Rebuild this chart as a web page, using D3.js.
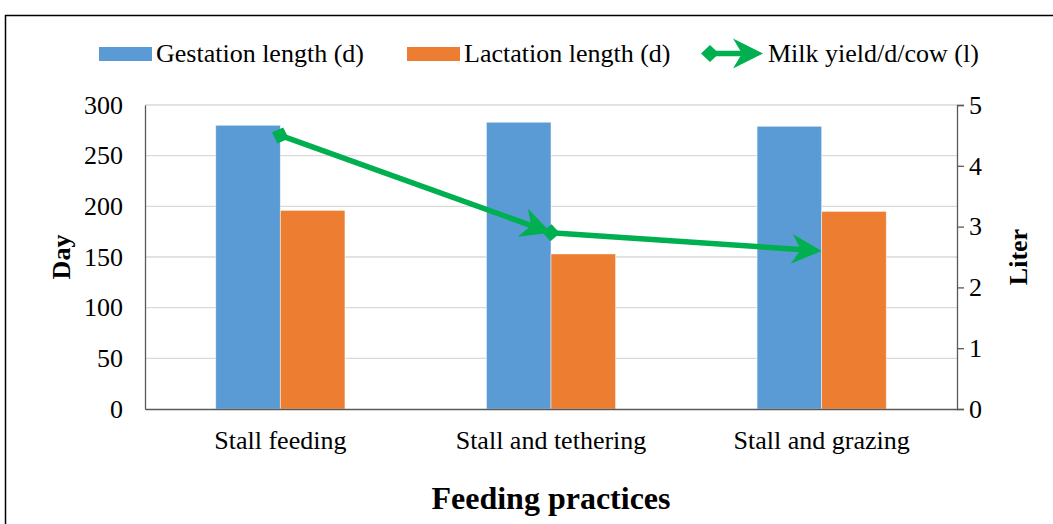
<!DOCTYPE html>
<html><head><meta charset="utf-8">
<script src="https://cdn.jsdelivr.net/npm/d3@7"></script>
<style>
html,body{margin:0;padding:0;background:#fff;}
svg{display:block;}
svg text{font-family:"Liberation Serif","Times New Roman",serif !important;fill:#000;}
</style></head>
<body>
<svg id="chart" width="1053" height="524"></svg>
<script>
const categories = ["Stall feeding", "Stall and tethering", "Stall and grazing"];
const gestation = [280, 283, 279];
const lactation = [196, 153, 195];
const milkYield = [4.5, 2.9, 2.6];
const dayTicks = [0, 50, 100, 150, 200, 250, 300];
const literTicks = [0, 1, 2, 3, 4, 5];
const seriesNames = ["Gestation length (d)", "Lactation length (d)", "Milk yield/d/cow (l)"];
const colors = ["#5B9BD5", "#ED7D31", "#00B050"];

const svg = d3.select("#chart");
const m = {left: 145, right: 957, top: 105, bottom: 409};
const FS = 26;

// outer border
svg.append("rect").attr("x", 5.5).attr("y", 15.5).attr("width", 1060).attr("height", 520)
  .attr("fill", "none").attr("stroke", "#000").attr("stroke-width", 1.5);

const x = d3.scaleBand().domain(categories).range([m.left, m.right]);
const xs = d3.scaleBand().domain([0, 1]).range([0, x.bandwidth()]).paddingInner(0).paddingOuter(1.095);
const yL = d3.scaleLinear().domain([0, 300]).range([m.bottom, m.top]);
const yR = d3.scaleLinear().domain([0, 5]).range([m.bottom, m.top]);

// gridlines
svg.append("g").selectAll("line").data(dayTicks.filter(d => d > 0)).join("line")
  .attr("x1", m.left).attr("x2", m.right)
  .attr("y1", d => yL(d)).attr("y2", d => yL(d))
  .attr("stroke", "#d9d9d9").attr("stroke-width", 1.3);

// bars
const groups = [gestation, lactation];
groups.forEach((arr, si) => {
  svg.append("g").selectAll("rect").data(arr).join("rect")
    .attr("x", (d, i) => x(categories[i]) + xs(si))
    .attr("width", xs.bandwidth())
    .attr("y", d => yL(d))
    .attr("height", d => yL(0) - yL(d))
    .attr("fill", colors[si])
    .attr("stroke", "#fff").attr("stroke-opacity", 0.6).attr("stroke-width", 0.8);
});

// left axis
const axL = svg.append("g").attr("transform", `translate(${m.left},0)`)
  .call(d3.axisLeft(yL).tickValues(dayTicks).tickSize(0).tickPadding(22));
axL.select(".domain").attr("stroke", "#595959").attr("stroke-width", 1.3);
axL.selectAll("text").attr("font-size", FS);

// right axis
const axR = svg.append("g").attr("transform", `translate(${m.right},0)`)
  .call(d3.axisRight(yR).tickValues(literTicks).tickFormat(d3.format("d")).tickSize(7).tickSizeOuter(7).tickPadding(5));
axR.select(".domain").attr("stroke", "#595959").attr("stroke-width", 1.3);
axR.selectAll(".tick line").attr("stroke", "#595959").attr("stroke-width", 1.3);
axR.selectAll("text").attr("font-size", FS);

// bottom baseline
const axB = svg.append("g").attr("transform", `translate(0,${m.bottom})`)
  .call(d3.axisBottom(x).tickSize(0).tickPadding(22));
axB.select(".domain").attr("stroke", "#595959").attr("stroke-width", 1.5);
axB.selectAll("text").attr("font-size", FS);

// markers
const defs = svg.append("defs");
defs.append("marker").attr("id", "arrow").attr("markerUnits", "userSpaceOnUse")
  .attr("viewBox", "-32 -17 34 34").attr("refX", 0).attr("refY", 0)
  .attr("markerWidth", 34).attr("markerHeight", 34).attr("orient", "auto")
  .append("path").attr("d", "M0,0 L-30,-15 L-21,0 L-30,15 Z").attr("fill", colors[2]);
defs.append("marker").attr("id", "diamond").attr("markerUnits", "userSpaceOnUse")
  .attr("viewBox", "-10 -10 20 20").attr("refX", 0).attr("refY", 0)
  .attr("markerWidth", 20).attr("markerHeight", 20).attr("orient", "auto")
  .append("path").attr("d", "M-9,0 L0,-8.5 L9,0 L0,8.5 Z").attr("fill", colors[2]);

// milk yield line: segments with diamond start and arrow end
const pts = milkYield.map((v, i) => [x(categories[i]) + x.bandwidth() / 2, yR(v)]);
const segs = d3.pairs(pts);
const lineGen = d3.line();
svg.append("g").selectAll("path").data(segs).join("path")
  .attr("d", d => {
    const [a, b] = d; const dx = b[0] - a[0], dy = b[1] - a[1]; const L = Math.hypot(dx, dy);
    return lineGen([a, [b[0] - dx / L * 18, b[1] - dy / L * 18]]);
  })
  .attr("fill", "none").attr("stroke", colors[2]).attr("stroke-width", 5.5);
svg.append("g").selectAll("path").data(segs).join("path")
  .attr("d", d => lineGen(d))
  .attr("fill", "none").attr("stroke", "none")
  .attr("marker-start", "url(#diamond)").attr("marker-end", "url(#arrow)");

// legend
const lg = svg.append("g");
const lx = [99, 407];
[0, 1].forEach(i => {
  lg.append("rect").attr("x", lx[i]).attr("y", 47).attr("width", 53).attr("height", 14).attr("fill", colors[i]);
  lg.append("text").attr("x", lx[i] + 57).attr("y", 62).attr("font-size", FS).text(seriesNames[i]);
});
lg.append("path").attr("d", lineGen([[710, 53.5], [745, 53.5]])).attr("stroke", colors[2]).attr("stroke-width", 5.5);
lg.append("path").attr("d", lineGen([[710, 53.5], [763, 53.5]])).attr("stroke", "none")
  .attr("marker-start", "url(#diamond)").attr("marker-end", "url(#arrow)");
lg.append("text").attr("x", 768).attr("y", 62).attr("font-size", FS).text(seriesNames[2]);

// axis titles
svg.append("text").attr("transform", `translate(70,${(m.top + m.bottom) / 2}) rotate(-90)`)
  .attr("text-anchor", "middle").attr("font-size", FS).attr("font-weight", "bold").text("Day");
svg.append("text").attr("transform", `translate(1027,${(m.top + m.bottom) / 2}) rotate(-90)`)
  .attr("text-anchor", "middle").attr("font-size", FS).attr("font-weight", "bold").text("Liter");
svg.append("text").attr("x", (m.left + m.right) / 2).attr("y", 509)
  .attr("text-anchor", "middle").attr("font-size", 32).attr("font-weight", "bold").text("Feeding practices");
</script>
</body></html>
